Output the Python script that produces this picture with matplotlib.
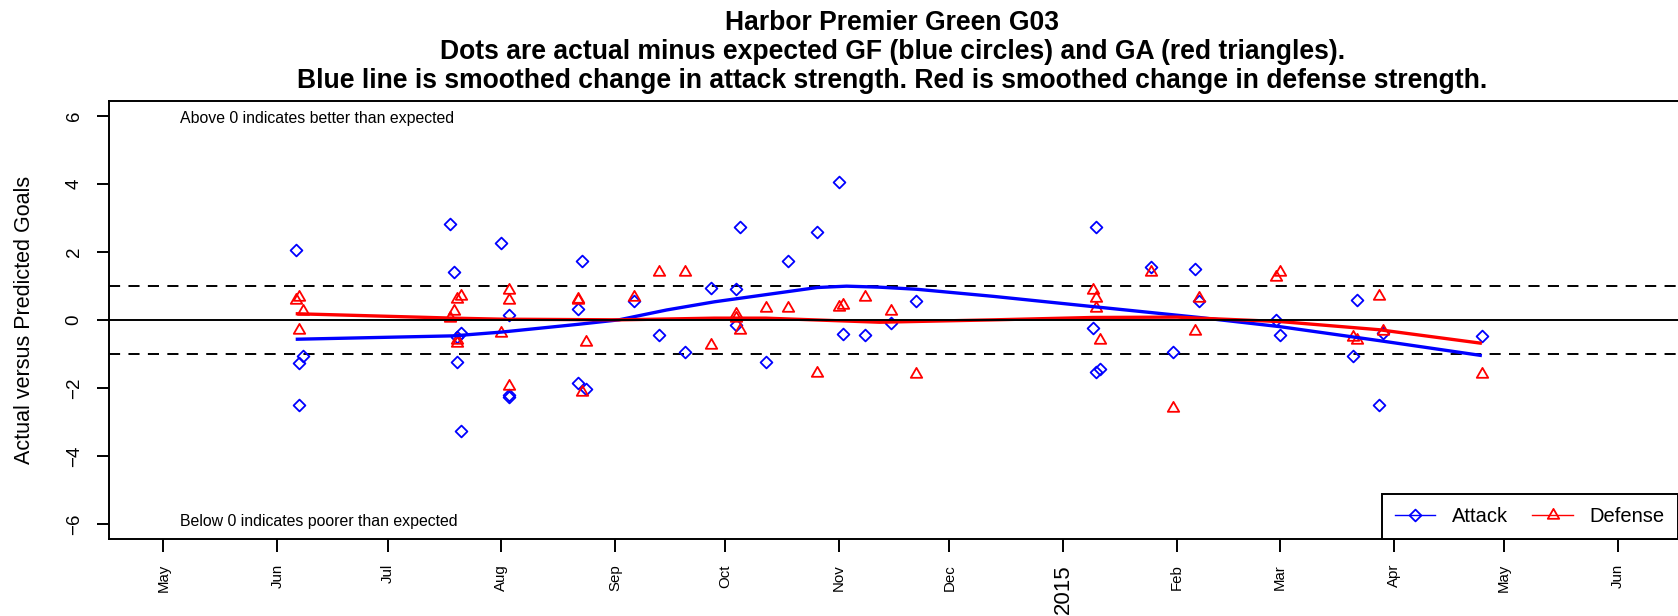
import matplotlib
matplotlib.use("Agg")
import matplotlib.pyplot as plt
import matplotlib.dates as mdates
from matplotlib.path import Path
from matplotlib.lines import Line2D
import pandas as pd

plt.rcParams['font.family'] = ['Liberation Sans', 'DejaVu Sans']
plt.rcParams['lines.scale_dashes'] = False

# ---------------- data ----------------
attack_dates = [
    "2014-06-06", "2014-06-07", "2014-06-07", "2014-06-08",
    "2014-07-18", "2014-07-19", "2014-07-20", "2014-07-20", "2014-07-21", "2014-07-21",
    "2014-08-01", "2014-08-03", "2014-08-03", "2014-08-03",
    "2014-08-22", "2014-08-22", "2014-08-23", "2014-08-24",
    "2014-09-06", "2014-09-13", "2014-09-20", "2014-09-27",
    "2014-10-04", "2014-10-04", "2014-10-05", "2014-10-12", "2014-10-18", "2014-10-26",
    "2014-11-01", "2014-11-02", "2014-11-08", "2014-11-15", "2014-11-22",
    "2015-01-09", "2015-01-10", "2015-01-10", "2015-01-11",
    "2015-01-25", "2015-01-31", "2015-02-06", "2015-02-07",
    "2015-02-28", "2015-03-01", "2015-03-21", "2015-03-22", "2015-03-28", "2015-03-29",
    "2015-04-25",
]
attack_values = [
    2.05, -1.27, -2.50, -1.05,
    2.82, 1.40, -1.25, -0.50, -0.39, -3.28,
    2.25, 0.13, -2.20, -2.27,
    0.31, -1.86, 1.74, -2.04,
    0.54, -0.45, -0.95, 0.94,
    0.90, -0.15, 2.73, -1.25, 1.74, 2.58,
    4.04, -0.41, -0.45, -0.10, 0.54,
    -0.25, 2.73, -1.52, -1.45,
    1.54, -0.95, 1.49, 0.54,
    0.00, -0.44, -1.06, 0.59, -2.50, -0.38,
    -0.46,
]

defense_dates = [
    "2014-06-06", "2014-06-07", "2014-06-07", "2014-06-08",
    "2014-07-18", "2014-07-19", "2014-07-20", "2014-07-20", "2014-07-20", "2014-07-21",
    "2014-08-01", "2014-08-03", "2014-08-03", "2014-08-03",
    "2014-08-22", "2014-08-22", "2014-08-23", "2014-08-24",
    "2014-09-06", "2014-09-13", "2014-09-20", "2014-09-27",
    "2014-10-04", "2014-10-04", "2014-10-05", "2014-10-12", "2014-10-18", "2014-10-26",
    "2014-11-01", "2014-11-02", "2014-11-08", "2014-11-15", "2014-11-22",
    "2015-01-09", "2015-01-10", "2015-01-10", "2015-01-11",
    "2015-01-25", "2015-01-31", "2015-02-06", "2015-02-07",
    "2015-02-28", "2015-03-01", "2015-03-21", "2015-03-22", "2015-03-28", "2015-03-29",
    "2015-04-25",
]
defense_values = [
    0.57, 0.67, -0.31, 0.26,
    0.05, 0.27, 0.62, -0.59, -0.68, 0.71,
    -0.38, 0.88, 0.59, -1.94,
    0.62, 0.58, -2.11, -0.64,
    0.67, 1.40, 1.40, -0.74,
    0.18, 0.05, -0.31, 0.34, 0.34, -1.57,
    0.39, 0.44, 0.67, 0.25, -1.59,
    0.88, 0.64, 0.34, -0.59,
    1.42, -2.60, -0.32, 0.64,
    1.26, 1.42, -0.51, -0.59, 0.69, -0.34,
    -1.59,
]

attack_trend_dates = [
    "2014-06-06", "2014-07-19", "2014-08-01", "2014-08-22", "2014-09-02",
    "2014-09-15", "2014-09-28", "2014-10-12", "2014-10-26", "2014-11-03",
    "2014-11-12", "2014-11-22", "2014-12-13", "2015-01-09", "2015-02-07",
    "2015-03-01", "2015-03-28", "2015-04-25",
]
attack_trend_values = [
    -0.57, -0.47, -0.36, -0.13, 0.00,
    0.29, 0.53, 0.74, 0.95, 0.99,
    0.96, 0.90, 0.69, 0.39, 0.07,
    -0.20, -0.61, -1.05,
]

defense_trend_dates = [
    "2014-06-06", "2014-07-19", "2014-08-01", "2014-09-02", "2014-09-28",
    "2014-10-12", "2014-11-12", "2014-12-13", "2015-01-09", "2015-02-01",
    "2015-02-07", "2015-03-01", "2015-03-28", "2015-04-25",
]
defense_trend_values = [
    0.18, 0.05, 0.02, 0.00, 0.05,
    0.05, -0.07, 0.00, 0.07, 0.08,
    0.05, -0.05, -0.29, -0.69,
]

month_tick_dates = pd.date_range("2014-05-01", "2015-06-01", freq="MS")
month_labels = ["May", "Jun", "Jul", "Aug", "Sep", "Oct", "Nov", "Dec",
                "2015", "Feb", "Mar", "Apr", "May", "Jun"]
y_ticks = [-6, -4, -2, 0, 2, 4, 6]

title_lines = [
    "Harbor Premier Green G03",
    "Dots are actual minus expected GF (blue circles) and GA (red triangles).",
    "Blue line is smoothed change in attack strength. Red is smoothed change in defense strength.",
]
y_label = "Actual versus Predicted Goals"
note_above = "Above 0 indicates better than expected"
note_below = "Below 0 indicates poorer than expected"

# ---------------- figure ----------------
W, H = 1678, 616
fig = plt.figure(figsize=(W / 100, H / 100), dpi=100)
ax_left, ax_right, ax_top, ax_bot = 109, 1678, 100.7, 539
ax = fig.add_axes([ax_left / W, (H - ax_bot) / H, (ax_right - ax_left) / W, (ax_bot - ax_top) / H])

BLUE = "#0000FF"
RED = "#FF0000"

diamond = Path([(0, 1), (1, 0), (0, -1), (-1, 0), (0, 1)], closed=True)
triangle = Path([(0, 1), (0.866, -0.5), (-0.866, -0.5), (0, 1)], closed=True)

a_dates = pd.to_datetime(attack_dates)
d_dates = pd.to_datetime(defense_dates)

ax.axhline(1, color="black", lw=1.4, linestyle=(0, (8, 6)), zorder=1)
ax.axhline(-1, color="black", lw=1.4, linestyle=(0, (8, 6)), zorder=1)

ax.plot(a_dates, attack_values, linestyle="none", marker=diamond, ms=8.5,
        mfc="none", mec=BLUE, mew=1.3, zorder=2)
ax.plot(d_dates, defense_values, linestyle="none", marker=triangle, ms=9.5,
        mfc="none", mec=RED, mew=1.3, zorder=2)

ax.plot(pd.to_datetime(attack_trend_dates), attack_trend_values, color=BLUE, lw=2.4,
        solid_capstyle="butt", zorder=3)
ax.plot(pd.to_datetime(defense_trend_dates), defense_trend_values, color=RED, lw=2.4,
        solid_capstyle="butt", zorder=3)

ax.axhline(0, color="black", lw=1.4, zorder=4)

# limits
base = pd.Timestamp("2014-05-01")
x0 = mdates.date2num(base) - 14.84
x1 = mdates.date2num(base) + 412.4
ax.set_xlim(x0, x1)
ax.set_ylim(-6.44, 6.44)

# spines
for s in ["left", "top", "bottom"]:
    ax.spines[s].set_linewidth(1.4)
ax.spines["right"].set_visible(False)

# y ticks
ax.set_yticks(y_ticks)
ax.set_yticklabels([("\u2212" + str(abs(v))) if v < 0 else str(v) for v in y_ticks],
                   rotation=90, va="center", fontsize=13.5)
ax.tick_params(axis="y", length=8.6, width=1.4, pad=10.4)

# x ticks
ax.set_xticks(mdates.date2num(month_tick_dates))
ax.set_xticklabels(month_labels, rotation=90, va="top", ha="center", fontsize=10.8)
ax.tick_params(axis="x", length=9.4, width=1.4, pad=8.6)
for lab in ax.get_xticklabels():
    if lab.get_text() == "2015":
        lab.set_fontsize(16)

# annotations
ax.text(mdates.date2num(base) + 4.5, 5.93, note_above, ha="left", va="center", fontsize=11.4)
ax.text(mdates.date2num(base) + 4.5, -5.93, note_below, ha="left", va="center", fontsize=11.4)

# y label
fig.text(25 / W, 1 - 320 / H, y_label, rotation=90, ha="center", va="center", fontsize=15.5)

# title
cx = 892.5 / W
for line, base_y in zip(title_lines, [30, 59, 88]):
    fig.text(cx, 1 - base_y / H, line, ha="center", va="baseline",
             fontsize=19.1, fontweight="bold")

# legend
handles = [
    Line2D([], [], color=BLUE, lw=1.0, marker=diamond, ms=8.5, mfc="none", mec=BLUE, mew=1.3),
    Line2D([], [], color=RED, lw=1.0, marker=triangle, ms=9.5, mfc="none", mec=RED, mew=1.3),
]
leg = ax.legend(handles, ["Attack", "Defense"], ncol=2, loc="lower right",
                bbox_to_anchor=(1.0, 0.0), borderaxespad=0, fontsize=14.5,
                handlelength=2.0, handletextpad=0.85, columnspacing=1.2,
                borderpad=0.65, fancybox=False, framealpha=1, edgecolor="black")
leg.get_frame().set_linewidth(1.4)
leg.set_zorder(5)

fig.savefig("out.png", dpi=100)
